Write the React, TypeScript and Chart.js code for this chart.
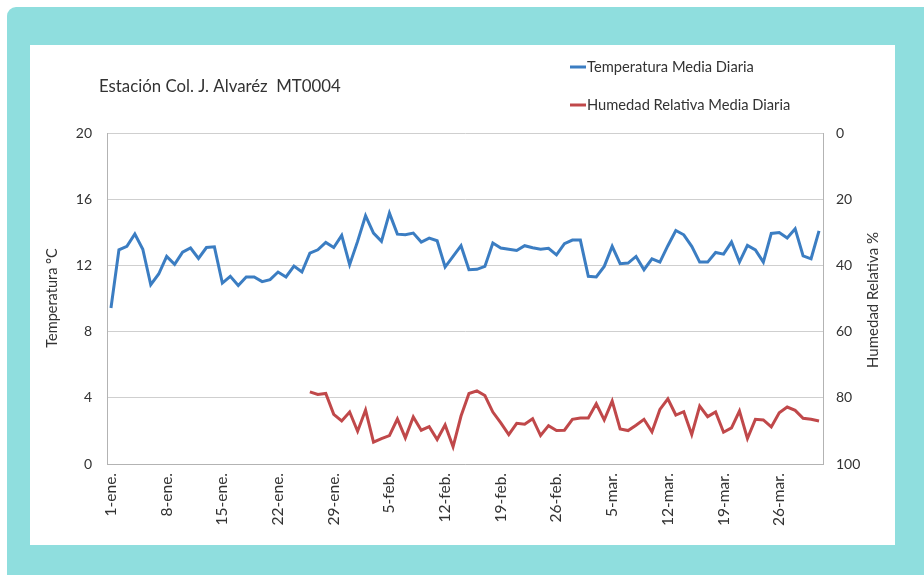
import { useEffect, useRef } from "react";
import { Chart, registerables } from "chart.js";

Chart.register(...registerables);

const chartTitle = "Estación Col. J. Alvaréz  MT0004";
const seriesNames = ["Temperatura Media Diaria", "Humedad Relativa Media Diaria"];
const leftAxisTitle = "Temperatura °C";
const rightAxisTitle = "Humedad Relativa %";

const monthNames = ["ene.", "feb.", "mar."];
const monthLengths = [31, 28, 31];
const categories: string[] = [];
monthNames.forEach((m, i) => {
  for (let d = 1; d <= monthLengths[i]; d++) categories.push(`${d}-${m}`);
});

const temperature = [
  9.43, 12.94, 13.15, 13.9, 12.98, 10.83, 11.48, 12.54, 12.06, 12.8,
  13.05, 12.42, 13.08, 13.12, 10.93, 11.34, 10.79, 11.3, 11.3, 11.02,
  11.14, 11.6, 11.3, 11.96, 11.6, 12.74, 12.94, 13.39, 13.08, 13.81,
  12.04, 13.45, 15.0, 13.95, 13.45, 15.16, 13.89, 13.85, 13.95, 13.41,
  13.65, 13.49, 11.9, 12.54, 13.19, 11.74, 11.76, 11.94, 13.35, 13.05,
  12.98, 12.9, 13.19, 13.07, 12.98, 13.03, 12.64, 13.31, 13.53, 13.53,
  11.34, 11.3, 11.94, 13.15, 12.1, 12.14, 12.54, 11.74, 12.4, 12.2,
  13.19, 14.11, 13.85, 13.15, 12.2, 12.2, 12.78, 12.68, 13.41, 12.2,
  13.21, 12.94, 12.2, 13.93, 13.99, 13.65, 14.21, 12.58, 12.4, 14.09,
];

const humidity: (number | null)[] = [
  null, null, null, null, null, null, null, null, null, null,
  null, null, null, null, null, null, null, null, null, null,
  null, null, null, null, null, 78.2, 79.0, 78.7, 85.0, 87.0,
  84.3, 90.1, 83.7, 93.4, 92.3, 91.4, 86.4, 92.1, 85.8, 89.8,
  88.7, 92.6, 88.2, 94.8, 85.5, 78.7, 77.9, 79.3, 84.3, 87.6,
  91.1, 87.7, 88.0, 86.3, 91.4, 88.4, 89.9, 89.8, 86.5, 86.1,
  86.1, 81.8, 86.7, 81.0, 89.4, 89.9, 88.3, 86.5, 90.3, 83.5,
  80.3, 85.2, 84.2, 91.1, 82.5, 85.7, 84.3, 90.4, 89.1, 84.0,
  92.3, 86.5, 86.7, 88.8, 84.5, 82.8, 83.8, 86.2, 86.5, 87.0,
];

const tempTicks = { min: 0, max: 20, step: 4 };
const humTicks = { min: 0, max: 100, step: 20 };
const labelEvery = 7;

const BLUE = "#3b7dc2";
const RED = "#c0484a";
const FONT = "Lato, 'Open Sans', sans-serif";

const overlayPlugin = {
  id: "overlay",
  afterDraw(chart: any) {
    const ctx = chart.ctx as CanvasRenderingContext2D;
    ctx.save();
    ctx.fillStyle = "#333";
    ctx.textBaseline = "middle";
    // title
    ctx.font = `16.8px ${FONT}`;
    ctx.textAlign = "left";
    ctx.fillText(chartTitle, 69, 42);
    // legend
    ctx.font = `14.7px ${FONT}`;
    const ly = [22, 60];
    const colors = [BLUE, RED];
    seriesNames.forEach((n, i) => {
      ctx.strokeStyle = colors[i];
      ctx.lineWidth = 3;
      ctx.beginPath();
      ctx.moveTo(540, ly[i]);
      ctx.lineTo(556, ly[i]);
      ctx.stroke();
      ctx.fillText(n, 557, ly[i]);
    });
    // axis titles
    ctx.textAlign = "center";
    ctx.font = `14.5px ${FONT}`;
    ctx.save();
    ctx.translate(22.5, 253);
    ctx.rotate(-Math.PI / 2);
    ctx.fillText(leftAxisTitle, 0, 0);
    ctx.restore();
    ctx.font = `15px ${FONT}`;
    ctx.save();
    ctx.translate(843, 255);
    ctx.rotate(-Math.PI / 2);
    ctx.fillText(rightAxisTitle, 0, 0);
    ctx.restore();
    ctx.restore();
  },
};

export default function App() {
  const ref = useRef<HTMLCanvasElement>(null);
  useEffect(() => {
    if (!ref.current) return;
    const tickFont = { family: FONT, size: 14 };
    const chart = new Chart(ref.current, {
      type: "line",
      data: {
        labels: categories,
        datasets: [
          {
            label: seriesNames[0],
            data: temperature,
            borderColor: BLUE,
            backgroundColor: BLUE,
            borderWidth: 3,
            pointRadius: 0,
            tension: 0,
            yAxisID: "y",
          },
          {
            label: seriesNames[1],
            data: humidity,
            borderColor: RED,
            backgroundColor: RED,
            borderWidth: 3,
            pointRadius: 0,
            tension: 0,
            yAxisID: "y1",
            spanGaps: false,
          },
        ],
      },
      options: {
        responsive: false,
        animation: false,
        layout: { padding: { top: 88, left: 0, right: 0, bottom: 0 } },
        plugins: { legend: { display: false }, title: { display: false }, tooltip: { enabled: false } },
        scales: {
          x: {
            type: "category",
            offset: true,
            grid: { display: false, drawTicks: false },
            border: { display: true, color: "#b3b3b3", width: 1 },
            ticks: {
              autoSkip: false,
              maxRotation: 90,
              minRotation: 90,
              padding: 9,
              color: "#333",
              font: { family: FONT, size: 15.5 },
              callback: (_v: any, i: number) => (i % labelEvery === 0 ? categories[i] : null),
            },
            afterFit: (s: any) => {
              s.height = 81;
            },
          },
          y: {
            position: "left",
            min: tempTicks.min,
            max: tempTicks.max,
            grid: { color: "#cfcfcf", drawTicks: false, lineWidth: 1 },
            border: { display: true, color: "#b3b3b3" },
            ticks: { stepSize: tempTicks.step, padding: 15, color: "#333", font: tickFont },
            afterFit: (s: any) => {
              s.width = 77;
            },
          },
          y1: {
            position: "right",
            min: humTicks.min,
            max: humTicks.max,
            reverse: true,
            grid: { display: false, drawTicks: false },
            border: { display: true, color: "#b3b3b3" },
            ticks: { stepSize: humTicks.step, padding: 13, color: "#333", font: tickFont },
            afterFit: (s: any) => {
              s.width = 72;
            },
          },
        },
      } as any,
      plugins: [overlayPlugin],
    });
    return () => chart.destroy();
  }, []);

  return (
    <div style={{ position: "fixed", left: 0, top: 0, width: 924, height: 575, background: "#fff", overflow: "hidden" }}>
      <div
        style={{
          position: "absolute",
          left: 7,
          top: 7,
          width: 930,
          height: 580,
          background: "#8fdede",
          borderRadius: 9,
        }}
      />
      <div style={{ position: "absolute", left: 30, top: 45, width: 865, height: 500, background: "#fff" }}>
        <canvas ref={ref} width={865} height={500} style={{ display: "block", width: 865, height: 500 }} />
      </div>
    </div>
  );
}
